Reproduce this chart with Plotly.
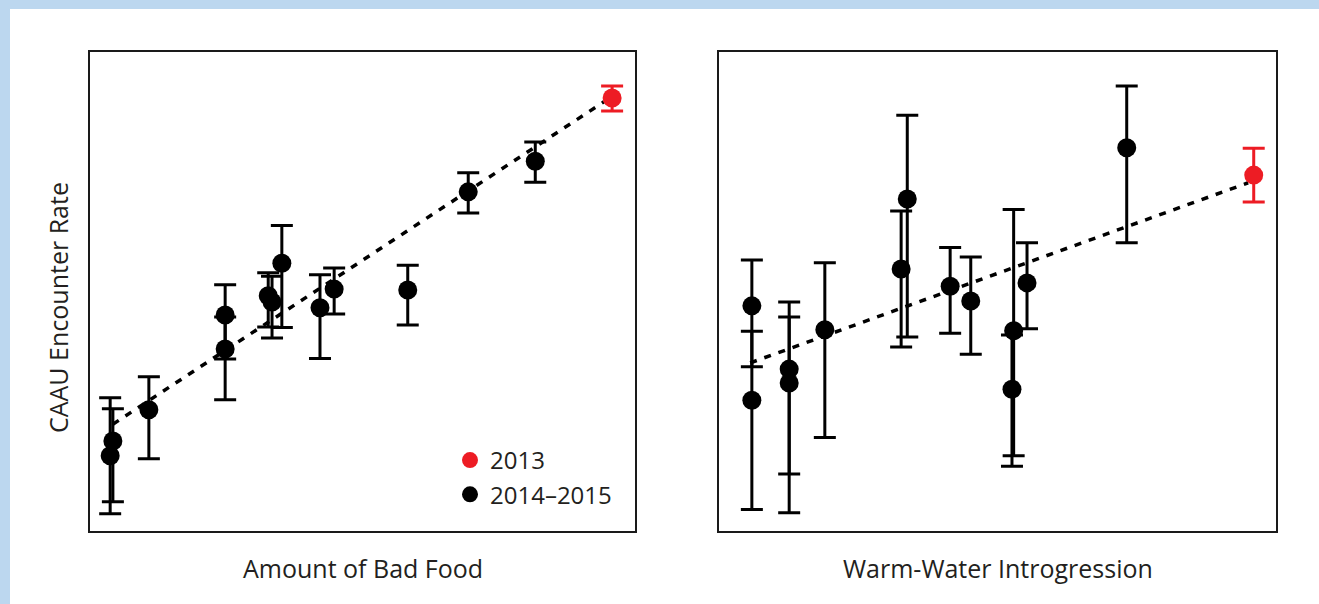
import plotly.graph_objects as go

# ---------------- data (arbitrary units, 0-100 on both axes) ----------------
# Left panel: Amount of Bad Food vs CAAU encounter rate
food_x_1415 = [3.7, 4.2, 10.8, 24.8, 24.8, 32.7, 33.4, 35.2, 42.2, 44.8, 58.3, 69.4, 81.7]
food_y_1415 = [15.7, 18.8, 25.3, 45.1, 38.0, 49.1, 47.8, 55.9, 46.6, 50.5, 50.3, 70.8, 77.2]
food_hi_1415 = [12.1, 6.7, 6.9, 6.3, 6.7, 4.8, 5.4, 7.9, 6.9, 4.4, 5.2, 4.0, 4.0]
food_lo_1415 = [12.1, 12.7, 10.2, 9.2, 10.6, 6.5, 7.5, 13.4, 10.6, 5.2, 7.3, 4.4, 4.4]
food_x_2013 = [95.8]
food_y_2013 = [90.4]
food_hi_2013 = [2.5]
food_lo_2013 = [2.7]
food_trend_x = [4.2, 94.3]
food_trend_y = [22.3, 89.6]

# Right panel: Warm-water introgression vs CAAU encounter rate
warm_x_1415 = [5.9, 5.9, 12.6, 12.6, 19.0, 33.8, 32.7, 41.5, 45.2, 52.9, 52.6, 55.3, 73.2]
warm_y_1415 = [47.0, 27.3, 33.8, 30.9, 42.0, 69.3, 54.7, 51.1, 48.0, 41.8, 29.6, 51.8, 80.0]
warm_hi_1415 = [9.6, 14.4, 14.0, 13.8, 14.0, 17.5, 12.1, 8.1, 9.2, 25.3, 11.3, 8.4, 12.9]
warm_lo_1415 = [12.7, 22.8, 21.9, 27.1, 22.5, 28.8, 16.3, 9.8, 11.1, 26.1, 16.1, 9.6, 19.8]
warm_x_2013 = [96.0]
warm_y_2013 = [74.3]
warm_hi_2013 = [5.6]
warm_lo_2013 = [5.6]
warm_trend_x = [5.6, 95.0]
warm_trend_y = [35.1, 72.7]

series_names = ["2013", "2014\u20132015"]
x_titles = ["Amount of Bad Food", "Warm-Water Introgression"]
y_title = "CAAU Encounter Rate"

# ---------------- style ----------------
W, H = 1319, 604
RED = "#ED1C24"
BLACK = "#000000"
TEXT = "#231F20"
BLUE = "#BCD7EF"
FONT = "Open Sans"
MS = 19

fig = go.Figure()


def trend(x, y, xa, ya):
    fig.add_trace(go.Scatter(x=x, y=y, mode="lines", xaxis=xa, yaxis=ya,
                             line=dict(color=BLACK, width=3.5, dash="7px,8px"),
                             showlegend=False, hoverinfo="skip"))


def pts(x, y, hi, lo, color, name, xa, ya, show, rank):
    fig.add_trace(go.Scatter(
        x=x, y=y, mode="markers", xaxis=xa, yaxis=ya, name=name,
        marker=dict(color=color, size=MS, line=dict(width=0)),
        error_y=dict(type="data", symmetric=False, array=hi, arrayminus=lo,
                     color=color, thickness=3, width=11),
        showlegend=show, legendrank=rank))


trend(food_trend_x, food_trend_y, "x", "y")
trend(warm_trend_x, warm_trend_y, "x2", "y2")
pts(food_x_1415, food_y_1415, food_hi_1415, food_lo_1415, BLACK, series_names[1], "x", "y", True, 2)
pts(food_x_2013, food_y_2013, food_hi_2013, food_lo_2013, RED, series_names[0], "x", "y", True, 1)
pts(warm_x_1415, warm_y_1415, warm_hi_1415, warm_lo_1415, BLACK, series_names[1], "x2", "y2", False, 2)
pts(warm_x_2013, warm_y_2013, warm_hi_2013, warm_lo_2013, RED, series_names[0], "x2", "y2", False, 1)

ydom = [73 / H, 552 / H]
ax_common = dict(range=[0, 100], showgrid=False, zeroline=False, showticklabels=False,
                 ticks="", showline=True, linecolor="#1a1a1a", linewidth=2, mirror=True,
                 fixedrange=True)

title_font = dict(family=FONT, size=25, color=TEXT)

fig.update_layout(
    width=W, height=H,
    margin=dict(l=0, r=0, t=0, b=0),
    paper_bgcolor=BLUE,
    plot_bgcolor="white",
    font=dict(family=FONT, color=TEXT, size=24),
    xaxis=dict(domain=[90 / W, 635 / W], anchor="y", **ax_common),
    yaxis=dict(domain=ydom, anchor="x", **ax_common),
    xaxis2=dict(domain=[719 / W, 1276 / W], anchor="y2", **ax_common),
    yaxis2=dict(domain=ydom, anchor="x2", **ax_common),
    legend=dict(x=450 / W, y=1 - 438 / H, xanchor="left", yanchor="top",
                bgcolor="rgba(0,0,0,0)", borderwidth=0,
                font=dict(family=FONT, size=24, color=TEXT),
                itemsizing="trace", tracegroupgap=0),
    shapes=[dict(type="rect", xref="paper", yref="paper", layer="below",
                 x0=10 / W, x1=1.01, y0=-0.01, y1=1 - 9 / H,
                 fillcolor="white", line=dict(width=0))],
    annotations=[
        dict(text=x_titles[0], xref="x domain", yref="paper", x=0.5, y=1 - 568 / H,
             xanchor="center", yanchor="middle", showarrow=False, font=title_font),
        dict(text=x_titles[1], xref="x2 domain", yref="paper", x=0.5, y=1 - 568 / H,
             xanchor="center", yanchor="middle", showarrow=False, font=title_font),
        dict(text=y_title, xref="paper", yref="paper", x=58 / W, y=1 - 308 / H,
             xanchor="center", yanchor="middle", showarrow=False, textangle=-90,
             font=title_font),
    ],
)

fig.write_html(
    "out.html",
    config={"displayModeBar": False},
    post_script="document.body.style.margin='0';document.body.style.overflow='hidden';"
                "document.body.style.background='" + BLUE + "';",
)
